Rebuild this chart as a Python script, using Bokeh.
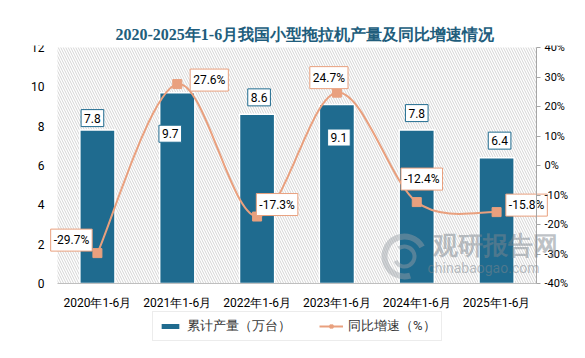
from bokeh.plotting import figure
from bokeh.models import (Range1d, LinearAxis, FixedTicker, ColumnDataSource, BoxAnnotation,
                          Legend, LegendItem, Label)
from bokeh.core.properties import value
from bokeh.embed import file_html
from bokeh.resources import INLINE

# ---------------- data ----------------
categories = ["2020年1-6月", "2021年1-6月", "2022年1-6月", "2023年1-6月", "2024年1-6月", "2025年1-6月"]
output_wan = [7.8, 9.7, 8.6, 9.1, 7.8, 6.4]          # 累计产量（万台）
growth_pct = [-29.7, 27.6, -17.3, 24.7, -12.4, -15.8]  # 同比增速（%）
left_ticks = [0, 2, 4, 6, 8, 10, 12]
right_ticks = [-40, -30, -20, -10, 0, 10, 20, 30, 40]
title_text = "2020-2025年1-6月我国小型拖拉机产量及同比增速情况"
bar_name = "累计产量（万台）"
line_name = "同比增速（%）"

# ---------------- layout / styles ----------------
W, H = 569, 342
PLOT_L, PLOT_R, PLOT_T, PLOT_B = 57, 536, 47, 283     # hatched plot area (px)
FRAME_T = 45
BAR = "#1f6b8f"
LINE = "#e9a07e"
FONT = "Roboto"
bar_label_off = [(-5, -12), (-7, 41), (2, -17), (2, 33), (0, -17), (3, -17)]
line_label_off = [(-26, -13), (32, -4), (20, -12), (-8, -15), (5, -23), (30, -7)]

idx = list(range(len(categories)))
ncat = len(categories)
LMAX, PMIN, PMAX = left_ticks[-1], right_ticks[0], right_ticks[-1]

ux = (PLOT_R - PLOT_L) / ncat
uy = (PLOT_B - PLOT_T) / LMAX
up = (PLOT_B - PLOT_T) / (PMAX - PMIN)
x_rng = Range1d(-0.5 - PLOT_L / ux, ncat - 0.5 + (W - PLOT_R) / ux)
y_rng = Range1d(-(H - PLOT_B) / uy, LMAX + (PLOT_T - FRAME_T) / uy)
p_rng = Range1d(PMIN - (H - PLOT_B) / up, PMAX + (PLOT_T - FRAME_T) / up)

p = figure(width=W, height=H, output_backend="svg", toolbar_location=None,
           x_range=x_rng, y_range=y_rng, x_axis_location=None, y_axis_location=None,
           min_border_left=0, min_border_right=0, min_border_top=FRAME_T, min_border_bottom=0)
p.border_fill_color = "white"
p.background_fill_color = "white"
p.outline_line_color = None
p.grid.visible = False
p.extra_y_ranges = {"pct": p_rng}

# hatched plot area
p.add_layout(BoxAnnotation(left=-0.5, right=ncat - 0.5, bottom=0, top=LMAX,
                           fill_color="white", fill_alpha=1.0, line_alpha=0,
                           hatch_pattern="left_diagonal_line", hatch_color="#d4d4d4",
                           hatch_scale=5, hatch_weight=1, level="underlay"))

# title
p.title.text = title_text
p.title.align = "left"
p.title.offset = 115
p.title.text_font = "serif"
p.title.text_font_size = "16px"
p.title.text_font_style = "bold"
p.title.text_color = "#215d7c"
p.title.standoff = 6

# axes (real bokeh axes, pinned to the plot-area edges)
xa = LinearAxis(ticker=FixedTicker(ticks=idx), fixed_location=0, bounds=(-0.5, ncat - 0.5))
xa.major_label_overrides = {i: c for i, c in zip(idx, categories)}
xa.major_tick_line_color = None
xa.major_tick_out = 0
xa.major_tick_in = 0
xa.minor_tick_line_color = None
xa.minor_tick_out = 0
xa.axis_line_color = "#bfbfbf"
xa.major_label_text_font = FONT
xa.major_label_text_font_size = "12px"
xa.major_label_text_color = "#000000"
xa.major_label_standoff = 12
p.add_layout(xa, "below")

ya = LinearAxis(ticker=FixedTicker(ticks=left_ticks), fixed_location=-0.5, bounds=(0, LMAX))
ya.axis_line_color = None
ya.major_tick_line_color = None
ya.major_tick_out = 0
ya.minor_tick_line_color = None
ya.minor_tick_out = 0
ya.major_label_text_font = FONT
ya.major_label_text_font_size = "12px"
ya.major_label_text_color = "#000000"
ya.major_label_standoff = 13
p.add_layout(ya, "left")

ra = LinearAxis(y_range_name="pct", ticker=FixedTicker(ticks=right_ticks),
                fixed_location=ncat - 0.5, bounds=(PMIN, PMAX))
ra.major_label_overrides = {t: f"{t}%" for t in right_ticks}
ra.axis_line_color = "#a6a6a6"
ra.major_tick_line_color = "#a6a6a6"
ra.major_tick_in = 0
ra.major_tick_out = 4
ra.minor_tick_line_color = None
ra.minor_tick_out = 0
ra.major_label_text_font = FONT
ra.major_label_text_font_size = "11px"
ra.major_label_text_color = "#000000"
ra.major_label_standoff = 4
p.add_layout(ra, "right")

# bars
bars = p.vbar(x=idx, top=output_wan, width=0.44, fill_color=BAR, line_color="white", line_width=1.5)

# watermark (decorative)
LOGO_X, LOGO_Y = -0.5 + (404 - PLOT_L) / ux, LMAX - (256 - PLOT_T) / uy
p.arc(x=[LOGO_X], y=[LOGO_Y], radius=20, radius_units="screen", start_angle=0.5, end_angle=5.0,
      line_color="#9aa0a6", line_alpha=0.45, line_width=6)
p.arc(x=[LOGO_X], y=[LOGO_Y], radius=10, radius_units="screen", start_angle=3.6, end_angle=2.2,
      line_color="#9aa0a6", line_alpha=0.45, line_width=4)
p.add_layout(Label(x=432, y=H - 245, x_units="screen", y_units="screen", text="观研报告网",
                   text_font=FONT, text_font_size="25px", text_font_style="bold",
                   text_color="#7d868e", text_alpha=0.5, text_baseline="middle"))
p.add_layout(Label(x=427, y=H - 267, x_units="screen", y_units="screen", text="chinabaogao.com",
                   text_font=FONT, text_font_size="14px", text_color="#7d868e", text_alpha=0.5,
                   text_baseline="middle"))

# smooth line (Catmull-Rom via cubic beziers, computed from the data points)
n = len(idx)
x0, y0, x1, y1, cx0, cy0, cx1, cy1 = [], [], [], [], [], [], [], []
for i in range(n - 1):
    a = i - 1 if i > 0 else i
    d = i + 2 if i + 2 < n else i + 1
    x0.append(idx[i]); y0.append(growth_pct[i])
    x1.append(idx[i + 1]); y1.append(growth_pct[i + 1])
    cx0.append(idx[i] + (idx[i + 1] - idx[a]) / 6); cy0.append(growth_pct[i] + (growth_pct[i + 1] - growth_pct[a]) / 6)
    cx1.append(idx[i + 1] - (idx[d] - idx[i]) / 6); cy1.append(growth_pct[i + 1] - (growth_pct[d] - growth_pct[i]) / 6)
curve = p.bezier(x0=x0, y0=y0, x1=x1, y1=y1, cx0=cx0, cy0=cy0, cx1=cx1, cy1=cy1,
                 line_color=LINE, line_width=2, y_range_name="pct")
marks = p.scatter(x=idx, y=growth_pct, marker="square", size=9, fill_color=LINE,
                  line_color=LINE, y_range_name="pct")

# data labels (boxed text)
bsrc = ColumnDataSource(dict(x=idx, y=output_wan, t=[f"{v:.1f}" for v in output_wan],
                             dx=[o[0] for o in bar_label_off], dy=[o[1] for o in bar_label_off]))
p.text(x="x", y="y", text="t", x_offset="dx", y_offset="dy", source=bsrc,
       text_align="center", text_baseline="middle", text_font=value(FONT), text_font_size="12px",
       text_color="#000000", background_fill_color="white", border_line_color=BAR,
       border_line_width=1, padding=(3, 4))
lsrc = ColumnDataSource(dict(x=idx, y=growth_pct, t=[f"{v:.1f}%" for v in growth_pct],
                             dx=[o[0] for o in line_label_off], dy=[o[1] for o in line_label_off]))
p.text(x="x", y="y", text="t", x_offset="dx", y_offset="dy", source=lsrc, y_range_name="pct",
       text_align="center", text_baseline="middle", text_font=value(FONT), text_font_size="12px",
       text_color="#000000", background_fill_color="white", border_line_color=LINE,
       border_line_width=1, padding=(3, 4))

# legend
legend = Legend(items=[LegendItem(label=bar_name, renderers=[bars]),
                       LegendItem(label=line_name, renderers=[curve, marks])],
                orientation="horizontal", location=(152, 1), margin=0, padding=5,
                spacing=28, glyph_width=24, glyph_height=8, label_standoff=5,
                label_text_font=FONT, label_text_font_size="13px", label_text_color="#333333",
                border_line_color="#d9d9d9", border_line_width=1, background_fill_color="white")
p.add_layout(legend)

open("out.html", "w").write(file_html(p, INLINE))
